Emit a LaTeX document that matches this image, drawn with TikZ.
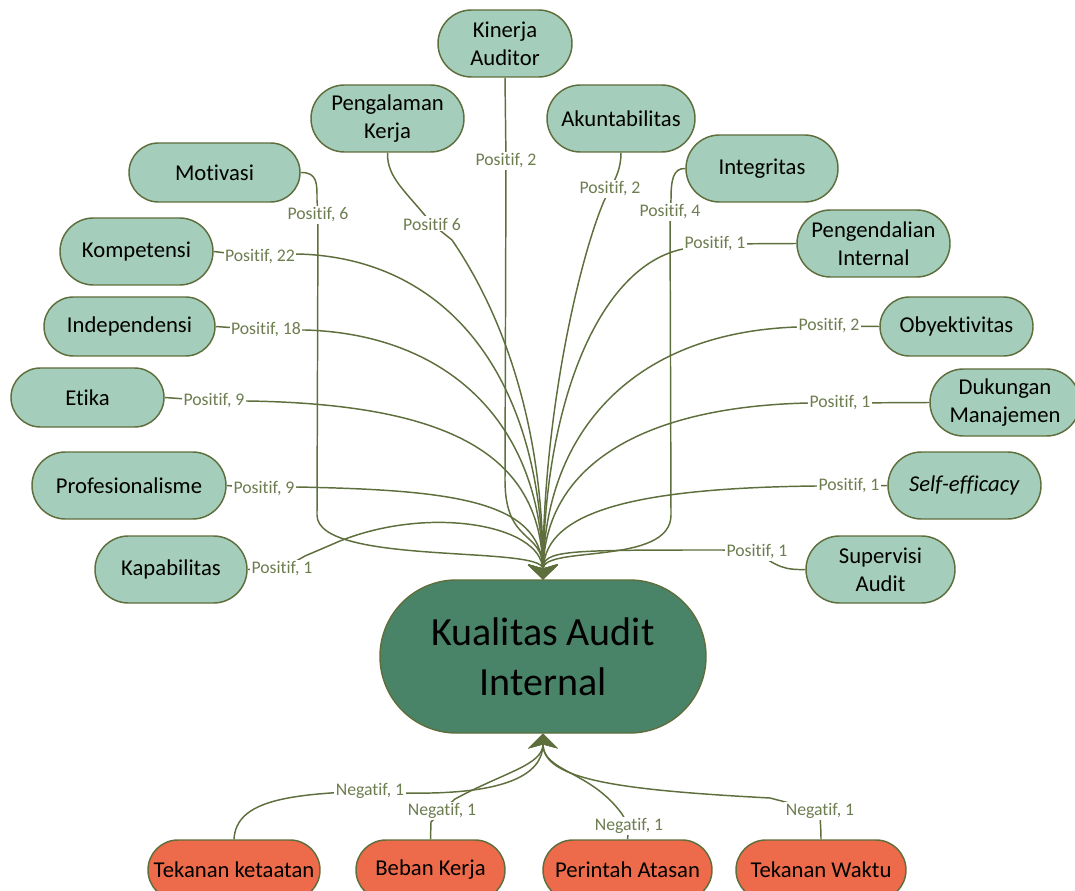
\documentclass[tikz,border=0pt]{standalone}
\usepackage{fontspec}
\setmainfont{Carlito}[Ligatures=NoCommon]
\usetikzlibrary{arrows.meta,backgrounds}
\definecolor{boxfill}{HTML}{A5CDBB}
\definecolor{edgecol}{HTML}{5E6E3C}
\definecolor{labtext}{HTML}{6E7D50}
\definecolor{darkfill}{HTML}{4A8468}
\definecolor{redfill}{HTML}{ED6B4A}
\tikzset{
 bx/.style n args={2}{draw=edgecol, line width=1.1pt, rectangle, rounded corners={#2*0.375pt}, minimum width={#1*0.75pt}, minimum height={#2*0.75pt}, inner sep=0pt, align=center, font=\fontsize{17}{21}\selectfont},
 gbox/.style={fill=boxfill},
 rbox/.style={fill=redfill},
 lab/.style={fill=white, text=labtext, inner sep=1pt, font=\fontsize{13.3}{15}\selectfont},
 con/.style={draw=edgecol, line width=1.1pt},
 tipd/.style={-{Stealth[length=11pt,width=22pt,inset=3pt]}}
}
\begin{document}
\begin{tikzpicture}[x=0.75pt,y=-0.75pt]
\useasboundingbox (0,0) rectangle (1075,891);
% boxes
\node[bx={134}{67}, gbox] (kin) at (505,43.5) {Kinerja\\Auditor};
\node[bx={153}{67}, gbox] (peng) at (387.5,118.5) {Pengalaman\\Kerja};
\node[bx={148}{67}, gbox] (akun) at (621,118.5) {Akuntabilitas};
\node[bx={152}{67}, gbox] (integ) at (762,168.5) {Integritas};
\node[bx={171}{59}, gbox] (mot) at (214.5,172.5) {Motivasi};
\node[bx={153}{67}, gbox] (komp) at (136.5,251.5) {Kompetensi};
\node[bx={153}{67}, gbox] (pengi) at (873.5,243.5) {Pengendalian\\Internal};
\node[bx={171}{59}, gbox] (ind) at (129.5,326.5) {Independensi};
\node[bx={153}{59}, gbox] (oby) at (956.5,326.5) {Obyektivitas};
\node[bx={153}{59}, gbox] (etika) at (87.5,397.5) {Etika};
\node[bx={150}{67}, gbox] (duk) at (1005,402.5) {Dukungan\\Manajemen};
\node[bx={194}{67}, gbox] (prof) at (129,485.5) {Profesionalisme};
\node[bx={153}{67}, gbox] (self) at (964.5,485.5) {\textit{Self-efficacy}};
\node[bx={152}{67}, gbox] (kap) at (171,569.5) {Kapabilitas};
\node[bx={149}{67}, gbox] (sup) at (880.5,569.5) {Supervisi\\Audit};
\node[bx={326}{153}, fill=darkfill, font=\fontsize{30}{37.5}\selectfont] (kq) at (543,656.5) {Kualitas Audit\\Internal};
\node[bx={172}{60}, rbox] (tk) at (234,870) {Tekanan ketaatan};
\node[bx={149}{60}, rbox] (bk) at (430.5,870) {Beban Kerja};
\node[bx={169}{60}, rbox] (pa) at (627.5,870) {Perintah Atasan};
\node[bx={170}{60}, rbox] (tw) at (821,870) {Tekanan Waktu};
% labels
\node[lab] (L1) at (506,161) {Positif, 2};
\node[lab] (L2) at (432,224) {Positif 6};
\node[lab] (L3) at (610,189) {Positif, 2};
\node[lab] (L4) at (670,212) {Positif, 4};
\node[lab] (L5) at (318,215) {Positif, 6};
\node[lab] (L6) at (260,257) {Positif, 22};
\node[lab] (L7) at (266,330) {Positif, 18};
\node[lab] (L8) at (214,401) {Positif, 9};
\node[lab] (L9) at (264,489) {Positif, 9};
\node[lab] (L10) at (282,569) {Positif, 1};
\node[lab] (L11) at (715,244) {Positif, 1};
\node[lab] (L12) at (829,326) {Positif, 2};
\node[lab] (L13) at (840,403) {Positif, 1};
\node[lab] (L14) at (849,486) {Positif, 1};
\node[lab] (L15) at (757,552) {Positif, 1};
\node[lab] (N1) at (370,791) {Negatif, 1};
\node[lab] (N2) at (442,811) {Negatif, 1};
\node[lab] (N3) at (629,826) {Negatif, 1};
\node[lab] (N4) at (820,811) {Negatif, 1};
% connectors
\begin{scope}[on background layer]
\draw[con] (kin.south) -- (L1.center);
\draw[con,tipd] (L1.center) -- (505,480) .. controls (505,545) and (543,530) .. (kq.north);
\draw[con] (peng.south) .. controls (387,178) and (405,190) .. (L2.center);
\draw[con,tipd] (L2.center) -- (452,240) .. controls (500,310) and (543,420) .. (kq.north);
\draw[con] (akun.south) .. controls (621,168) and (616,178) .. (L3.center);
\draw[con,tipd] (L3.center) -- (604,201) .. controls (578,262) and (543,420) .. (kq.north);
\draw[con] (integ.west) .. controls (673,168) and (671,180) .. (671,200) -- (L4.center);
\draw[con,tipd] (L4.center) -- (671,515) .. controls (671,566) and (543,545) .. (kq.north);
\draw[con] (mot.east) .. controls (318,172) and (317,185) .. (317,200) -- (L5.center);
\draw[con,tipd] (L5.center) -- (317,515) .. controls (317,566) and (543,545) .. (kq.north);
\draw[con] (komp.east) -- (L6.center);
\draw[con,tipd] (L6.center) -- (298,254) .. controls (450,258) and (541,380) .. (kq.north);
\draw[con] (ind.east) -- (L7.center);
\draw[con,tipd] (L7.center) -- (305,330) .. controls (445,334) and (541,420) .. (kq.north);
\draw[con] (etika.east) -- (L8.center);
\draw[con,tipd] (L8.center) -- (247,401) .. controls (450,404) and (541,455) .. (kq.north);
\draw[con] (prof.east) -- (L9.center);
\draw[con,tipd] (L9.center) -- (297,487) .. controls (450,490) and (541,500) .. (kq.north);
\draw[con] (kap.east) -- (L10.center);
\draw[con,tipd] (L10.center) -- (305,556) -- (340,541) .. controls (430,505) and (541,525) .. (kq.north);
\draw[con] (pengi.west) -- (L11.center);
\draw[con,tipd] (L11.center) -- (683,249) .. controls (600,266) and (545,400) .. (kq.north);
\draw[con] (oby.west) -- (L12.center);
\draw[con,tipd] (L12.center) -- (797,327) .. controls (625,333) and (545,440) .. (kq.north);
\draw[con] (duk.west) -- (L13.center);
\draw[con,tipd] (L13.center) -- (808,403) .. controls (635,407) and (545,470) .. (kq.north);
\draw[con] (self.west) -- (L14.center);
\draw[con,tipd] (L14.center) -- (816,486) .. controls (640,488) and (545,510) .. (kq.north);
\draw[con] (sup.west) .. controls (785,570) and (777,567) .. (L15.center);
\draw[con,tipd] (L15.center) -- (723,550) .. controls (565,550) and (543,550) .. (kq.north);
% bottom
\draw[con] (tk.north) .. controls (236,800) and (290,794) .. (N1.center);
\draw[con,tipd] (N1.center) -- (405,793) .. controls (505,795) and (543,775) .. (kq.south);
\draw[con] (bk.north) -- (431,822) -- (N2.center);
\draw[con,tipd] (N2.center) -- (455,799) .. controls (505,772) and (543,765) .. (kq.south);
\draw[con] (pa.north) -- (N3.center);
\draw[con,tipd] (N3.center) -- (622,814) .. controls (590,770) and (543,772) .. (kq.south);
\draw[con] (tw.north) .. controls (821,828) and (820,820) .. (N4.center);
\draw[con,tipd] (N4.center) -- (770,798) .. controls (620,790) and (543,780) .. (kq.south);
\end{scope}
\end{tikzpicture}
\end{document}
